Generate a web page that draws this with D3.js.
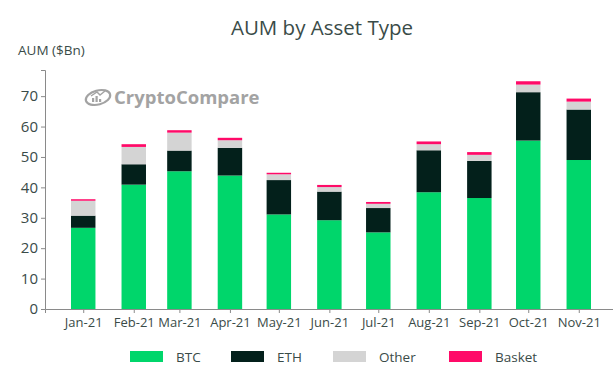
<!DOCTYPE html>
<html>
<head>
<meta charset="utf-8">
<script src="https://cdn.jsdelivr.net/npm/d3@7"></script>
<style>
  body { margin: 0; background: #fff; }
  svg { display: block; font-family: "Open Sans", sans-serif; }
</style>
</head>
<body>
<div id="chart"></div>
<script>
// values, $Bn
const months = ["2021-01-01", "2021-02-01", "2021-03-01", "2021-04-01", "2021-05-01", "2021-06-01",
                "2021-07-01", "2021-08-01", "2021-09-01", "2021-10-01", "2021-11-01"]
const btc    = [26.7, 40.9, 45.3, 43.9, 31.1, 29.2, 25.2, 38.4, 36.5, 55.4, 49.0]
const eth    = [4.0, 6.7, 6.8, 9.1, 11.3, 9.4, 8.0, 13.8, 12.2, 15.9, 16.6]
const other  = [4.9, 5.7, 5.9, 2.5, 1.9, 1.5, 1.4, 2.0, 2.0, 2.5, 2.6]
const basket = [0.5, 0.9, 0.8, 0.8, 0.5, 0.7, 0.6, 0.9, 0.9, 1.1, 1.0]
const seriesKeys = ["BTC", "ETH", "Other", "Basket"]
const yTicks = [0, 10, 20, 30, 40, 50, 60, 70]

const colors = {BTC: "#00d66b", ETH: "#03201b", Other: "#d4d4d4", Basket: "#ff0a68"}
const textColor = "#3a4b48"

const width = 613
const height = 377
const marginLeft = 45
const marginBottom = 68        // x axis at ~309
const marginTop = 70
const barDays = 15             // bar width in days (time axis)
const padDays = 23.45          // auto margin around the bars

const day = 864e5
const dates = months.map(d => new Date(d + "T00:00:00Z"))
const rows = dates.map((d, i) => ({date: d, BTC: btc[i], ETH: eth[i], Other: other[i], Basket: basket[i]}))

const x = d3.scaleUtc()
    .domain([new Date(+dates[0] - padDays * day), new Date(+dates[dates.length - 1] + padDays * day)])
    .range([marginLeft, 617])
const y = d3.scaleLinear()
    .domain([0, 78.6])
    .range([height - marginBottom, marginTop])

const series = d3.stack().keys(seriesKeys)(rows)

const svg = d3.select("#chart").append("svg")
    .attr("width", width)
    .attr("height", height)
    .attr("viewBox", [0, 0, width, height])

// title + y label
svg.append("text")
    .attr("x", 322).attr("y", 35)
    .attr("text-anchor", "middle")
    .attr("fill", textColor)
    .attr("font-size", 20.5)
    .text("AUM by Asset Type")

svg.append("text")
    .attr("x", 18).attr("y", 55)
    .attr("fill", textColor)
    .attr("font-size", 13.5)
    .text("AUM ($Bn)")

// watermark
const wm = svg.append("g").attr("fill", "#a3a3a3").attr("stroke", "#a3a3a3")
wm.append("ellipse")
    .attr("cx", 98).attr("cy", 97.5).attr("rx", 12.5).attr("ry", 7)
    .attr("transform", "rotate(-15,98,97.5)")
    .attr("fill", "none").attr("stroke-width", 2.2)
wm.selectAll("rect.wmbar")
    .data([[92, 98, 4], [95.5, 96, 6], [99, 99, 3]])
    .join("rect")
    .attr("x", d => d[0]).attr("y", d => d[1])
    .attr("width", 2.2).attr("height", d => d[2])
    .attr("stroke", "none")
wm.append("path")
    .attr("d", "M91,96 L97,92 L100,95 L105,91")
    .attr("fill", "none").attr("stroke-width", 1.4)
wm.append("text")
    .attr("x", 114).attr("y", 104)
    .attr("stroke", "none")
    .attr("font-size", 18.5)
    .attr("font-weight", "bold")
    .text("CryptoCompare")

// bars
svg.append("g")
    .selectAll("g")
    .data(series)
    .join("g")
    .attr("fill", d => colors[d.key])
    .selectAll("rect")
    .data(d => d)
    .join("rect")
    .attr("x", d => x(new Date(+d.data.date - barDays / 2 * day)))
    .attr("width", d => x(new Date(+d.data.date + barDays / 2 * day)) - x(new Date(+d.data.date - barDays / 2 * day)))
    .attr("y", d => y(d[1]))
    .attr("height", d => y(d[0]) - y(d[1]))

// axes
const fmt = d3.utcFormat("%b-%y")
const xAxis = d3.axisBottom(x).tickValues(dates).tickFormat(fmt).tickSizeOuter(0).tickSize(4).tickPadding(5)
const yAxis = d3.axisLeft(y).tickValues(yTicks).tickSizeOuter(0).tickSize(4).tickPadding(3)

svg.append("g")
    .attr("transform", `translate(0,${y(0)})`)
    .call(xAxis)
    .call(g => g.select(".domain").attr("stroke", "#8a8a8a"))
    .call(g => g.selectAll(".tick line").attr("stroke", "#8a8a8a"))
    .call(g => g.selectAll(".tick text").attr("fill", textColor).attr("font-size", 13).attr("font-family", "Open Sans"))

svg.append("g")
    .attr("transform", `translate(${marginLeft},0)`)
    .call(yAxis)
    .call(g => g.select(".domain").attr("stroke", "#8a8a8a"))
    .call(g => g.selectAll(".tick line").attr("stroke", "#8a8a8a"))
    .call(g => g.selectAll(".tick text").attr("fill", textColor).attr("font-size", 15).attr("font-family", "Open Sans"))

// legend
const legendX = [130, 231, 333, 449]
const legend = svg.append("g")
    .selectAll("g")
    .data(seriesKeys)
    .join("g")
    .attr("transform", (d, i) => `translate(${legendX[i]},351)`)
legend.append("rect")
    .attr("width", 33).attr("height", 11)
    .attr("fill", d => colors[d])
legend.append("text")
    .attr("x", 46).attr("y", 10.5)
    .attr("fill", textColor)
    .attr("font-size", 13.5)
    .text(d => d)
</script>
</body>
</html>
